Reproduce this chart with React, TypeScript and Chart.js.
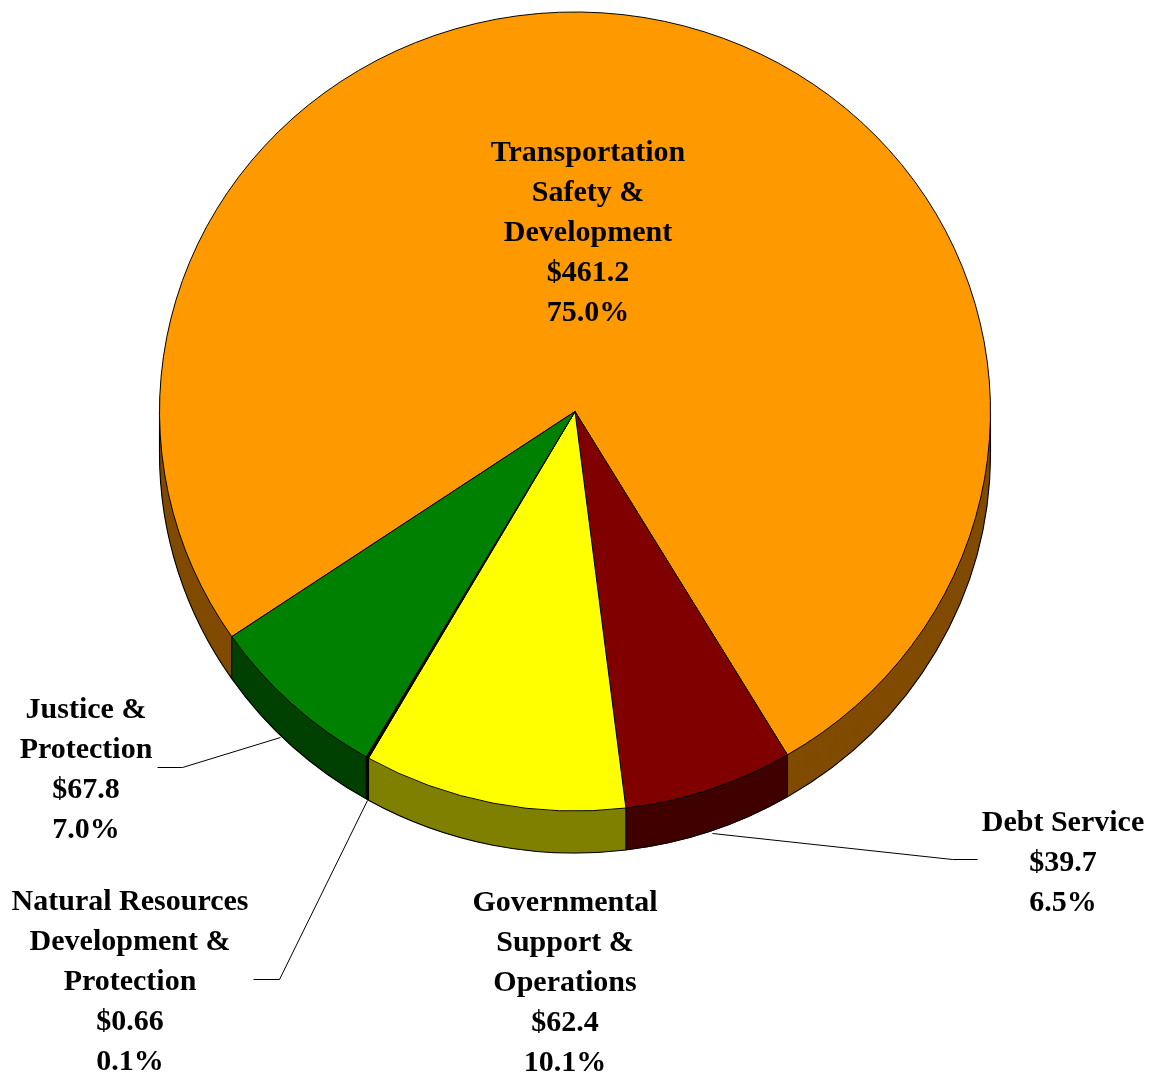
import React, { useEffect, useRef } from "react";
import { Chart, registerables } from "chart.js";

Chart.register(...registerables);

const categories = [
  "Transportation Safety & Development",
  "Debt Service",
  "Governmental Support & Operations",
  "Natural Resources Development & Protection",
  "Justice & Protection",
];
const dollarLabels = ["$461.2", "$39.7", "$62.4", "$0.66", "$67.8"];
const percentValues = [75.0, 6.5, 10.1, 0.1, 7.0];
const topColors = ["#FF9900", "#800000", "#FFFF00", "#000000", "#008000"];
const sideColors = ["#804C00", "#400000", "#808000", "#000000", "#004000"];

const labelLines: string[][] = [
  ["Transportation", "Safety &", "Development"],
  ["Debt Service"],
  ["Governmental", "Support &", "Operations"],
  ["Natural Resources", "Development &", "Protection"],
  ["Justice &", "Protection"],
];
// label centre x, first line baseline y
const labelAnchors: [number, number][] = [
  [588, 161],
  [1063, 831],
  [565, 911],
  [130, 910],
  [86, 718],
];
const leaders: [number, number][][] = [
  [],
  [[712, 833], [952, 859], [977, 859]],
  [],
  [[367, 800], [279, 979], [253, 979]],
  [[280, 737], [182, 767], [157, 767]],
];

const SY = 400 / 416;
const CY_TARGET = 411.5;
const DEPTH = 42;

const pie3d = {
  id: "pie3d",
  beforeDatasetsDraw(chart: any) {
    const ctx = chart.ctx as CanvasRenderingContext2D;
    const meta = chart.getDatasetMeta(0);
    const first = meta.data[0] as any;
    const cy = first.y;
    ctx.save();
    ctx.translate(0, CY_TARGET - cy * SY);
    ctx.scale(1, SY);
    const d = DEPTH / SY;
    for (let k = Math.ceil(d); k >= 1; k--) {
      meta.data.forEach((el: any, i: number) => {
        ctx.beginPath();
        ctx.moveTo(el.x, el.y + k);
        ctx.arc(el.x, el.y + k, el.outerRadius, el.startAngle, el.endAngle);
        ctx.closePath();
        ctx.fillStyle = sideColors[i];
        ctx.fill();
      });
    }
    ctx.strokeStyle = "#000";
    ctx.lineWidth = 1.1;
    const TWO = Math.PI * 2;
    meta.data.forEach((el: any) => {
      let s = el.startAngle % TWO;
      if (s < 0) s += TWO;
      const e = s + (el.endAngle - el.startAngle);
      const r = el.outerRadius;
      for (const [a0, a1] of [[0, Math.PI], [TWO, TWO + Math.PI]]) {
        const lo = Math.max(s, a0);
        const hi = Math.min(e, a1);
        if (hi > lo) {
          ctx.beginPath();
          ctx.arc(el.x, el.y + d, r, lo, hi);
          ctx.stroke();
        }
      }
      const a = s;
      if (a > 0 && a < Math.PI) {
        ctx.beginPath();
        ctx.moveTo(el.x + r * Math.cos(a), el.y + r * Math.sin(a));
        ctx.lineTo(el.x + r * Math.cos(a), el.y + r * Math.sin(a) + d);
        ctx.stroke();
      }
    });
    const r0 = first.outerRadius;
    ctx.beginPath();
    ctx.moveTo(first.x - r0, first.y);
    ctx.lineTo(first.x - r0, first.y + d);
    ctx.moveTo(first.x + r0, first.y);
    ctx.lineTo(first.x + r0, first.y + d);
    ctx.stroke();
  },
  afterDatasetsDraw(chart: any) {
    chart.ctx.restore();
  },
  afterDraw(chart: any) {
    const ctx = chart.ctx as CanvasRenderingContext2D;
    ctx.save();
    ctx.strokeStyle = "#000";
    ctx.lineWidth = 1;
    leaders.forEach((pts) => {
      if (!pts.length) return;
      ctx.beginPath();
      ctx.moveTo(pts[0][0] + 0.5, pts[0][1] + 0.5);
      for (let j = 1; j < pts.length; j++) ctx.lineTo(pts[j][0] + 0.5, pts[j][1] + 0.5);
      ctx.stroke();
    });
    ctx.fillStyle = "#000";
    ctx.font = "bold 30px 'Liberation Serif', 'Times New Roman', serif";
    ctx.textAlign = "center";
    ctx.textBaseline = "alphabetic";
    labelLines.forEach((lines, i) => {
      const all = [...lines, dollarLabels[i], percentValues[i].toFixed(1) + "%"];
      const [x, y] = labelAnchors[i];
      all.forEach((t, j) => ctx.fillText(t, x, y + j * 40));
    });
    ctx.restore();
  },
};

export default function App() {
  const ref = useRef<HTMLCanvasElement>(null);
  useEffect(() => {
    document.body.style.margin = "0";
    const chart = new Chart(ref.current!, {
      type: "pie",
      data: {
        labels: categories,
        datasets: [
          {
            data: percentValues,
            backgroundColor: topColors,
            borderColor: "#000",
            borderWidth: 1,
          },
        ],
      },
      options: {
        animation: false,
        responsive: false,
        rotation: 235.7,
        layout: { padding: { left: 159, right: 166, top: 0, bottom: 237 } },
        plugins: { legend: { display: false }, tooltip: { enabled: false } },
        events: [],
      },
      plugins: [pie3d],
    });
    return () => chart.destroy();
  }, []);
  return (
    <div style={{ position: "absolute", left: 0, top: 0, width: 1157, height: 1077 }}>
      <canvas ref={ref} width={1157} height={1077} />
    </div>
  );
}
